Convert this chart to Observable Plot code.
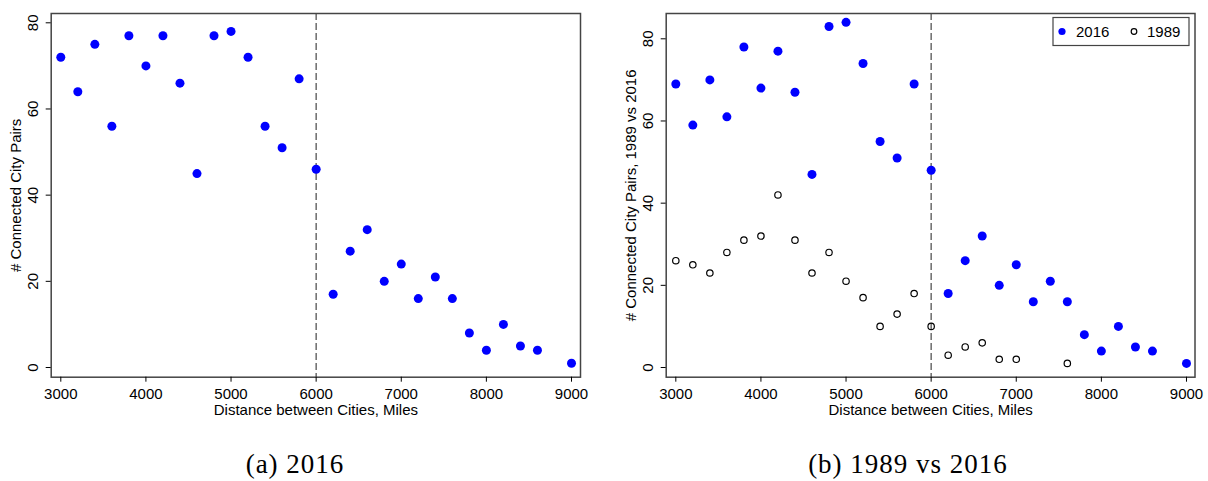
<!DOCTYPE html>
<html><head><meta charset="utf-8">
<script src="https://cdn.jsdelivr.net/npm/d3@7"></script>
<script src="https://cdn.jsdelivr.net/npm/@observablehq/plot@0.6"></script>
<style>
body{margin:0;background:#fff;width:1208px;height:481px;overflow:hidden;position:relative;font-family:"Liberation Sans",Arial,sans-serif;}
#a{position:absolute;left:0;top:0}
#b{position:absolute;left:604px;top:0}
#overlay{position:absolute;left:0;top:0;pointer-events:none}
</style></head><body>
<div id="a"></div><div id="b"></div>
<svg id="overlay" width="1208" height="481" xmlns="http://www.w3.org/2000/svg">
  <g id="legend">
    <rect x="1053" y="17.5" width="136" height="28" fill="#fff" stroke="#444" stroke-width="1.2"></rect>
    <circle cx="1062" cy="31.5" r="3.6" fill="#0000ff"></circle>
    <text x="1076" y="37" font-family="Liberation Sans, Arial, sans-serif" font-size="15">2016</text>
    <circle cx="1134" cy="31.5" r="2.8" fill="none" stroke="#000" stroke-width="1.2"></circle>
    <text x="1147" y="37" font-family="Liberation Sans, Arial, sans-serif" font-size="15">1989</text>
  </g>
  <text x="295" y="473" text-anchor="middle" font-family="Liberation Serif, serif" font-size="27" letter-spacing="1">(a) 2016</text>
  <text x="908" y="473" text-anchor="middle" font-family="Liberation Serif, serif" font-size="27" letter-spacing="1">(b) 1989 vs 2016</text>
</svg>
<script>
// ---- data ----
const distance = [3000,3200,3400,3600,3800,4000,4200,4400,4600,4800,5000,5200,5400,5600,5800,6000,6200,6400,6600,6800,7000,7200,7400,7600,7800,8000,8200,8400,8600,9000];
const pairs2016a = [72,64,75,56,77,70,77,66,45,77,78,72,56,51,67,46,17,27,32,20,24,16,21,16,8,4,10,5,4,1];
const pairs2016b = [69,59,70,61,78,68,77,67,47,83,84,74,55,51,69,48,18,26,32,20,25,16,21,16,8,4,10,5,4,1];
const distance1989 = [3000,3200,3400,3600,3800,4000,4200,4400,4600,4800,5000,5200,5400,5600,5800,6000,6200,6400,6600,6800,7000,7600];
const pairs1989 = [26,25,23,28,31,32,42,31,23,28,21,17,10,13,18,10,3,5,6,2,2,1];
const xTicks = [3000,4000,5000,6000,7000,8000,9000];
const yTicks = [0,20,40,60,80];
const cutoff = [6000];
const xTitle = "Distance between Cities, Miles";

const dataA = distance.map((d,i)=>({distance:d, pairs:pairs2016a[i]}));
const dataB = distance.map((d,i)=>({distance:d, pairs:pairs2016b[i]}));
const data89 = distance1989.map((d,i)=>({distance:d, pairs:pairs1989[i]}));

function panel({ml, mr, xDomain, yDomain, series, yTitle}) {
  return Plot.plot({
    width: 604, height: 430,
    marginLeft: ml, marginRight: mr, marginTop: 13, marginBottom: 53.3,
    x: {domain: xDomain},
    y: {domain: yDomain},
    style: {fontFamily: "Liberation Sans, Arial, sans-serif", fontSize: "15px", color: "#000", background: "transparent", overflow: "visible"},
    marks: [
      Plot.ruleX(cutoff, {stroke: "#555", strokeWidth: 1.3, strokeDasharray: "7,3"}),
      ...series,
      Plot.frame({stroke: "#444", strokeWidth: 1.5}),
      Plot.axisX({ticks: xTicks, tickSize: 5, tickPadding: 6, label: null, fontSize: 15, tickFormat: d => String(d)}),
      Plot.axisY({ticks: yTicks, tickSize: 5, tickFormat: () => "", label: null}),
      Plot.text(yTicks, {y: d => d, text: d => String(d), frameAnchor: "left", dx: -13.4, rotate: -90, textAnchor: "middle", lineAnchor: "bottom", fontSize: 15}),
      Plot.text([yTitle], {text: d => d, frameAnchor: "left", dx: -30, rotate: -90, textAnchor: "middle", lineAnchor: "bottom", fontSize: 15}),
      Plot.text([xTitle], {text: d => d, frameAnchor: "bottom", dy: 37.3, lineAnchor: "bottom", fontSize: 15})
    ]
  });
}

document.getElementById("a").append(panel({
  ml: 50.7, mr: 24,
  xDomain: [2887.2, 9105.7], yDomain: [-2.25, 82.16],
  yTitle: "# Connected City Pairs",
  series: [Plot.dot(dataA, {x: "distance", y: "pairs", r: 4.5, fill: "#0000ff", stroke: "none"})]
}));

document.getElementById("b").append(panel({
  ml: 61.7, mr: 13.5,
  xDomain: [2887, 9100], yDomain: [-2.36, 86.16],
  yTitle: "# Connected City Pairs, 1989 vs 2016",
  series: [
    Plot.dot(dataB, {x: "distance", y: "pairs", r: 4.5, fill: "#0000ff", stroke: "none"}),
    Plot.dot(data89, {x: "distance", y: "pairs", r: 3.2, fill: "none", stroke: "#000", strokeWidth: 1.2})
  ]
}));
</script>
</body></html>
